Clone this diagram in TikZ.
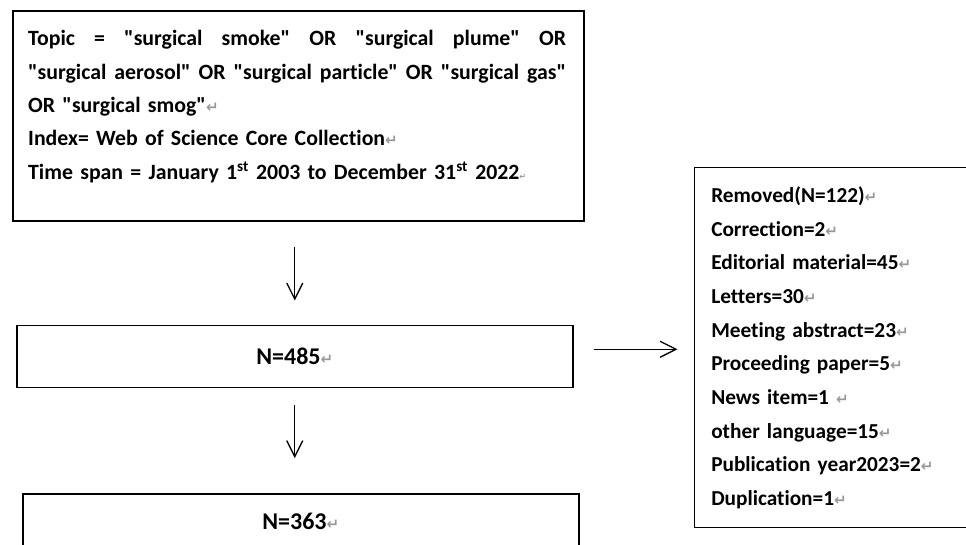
\documentclass[tikz,border=0pt]{standalone}
\usepackage{fontspec}
\setmainfont{Carlito}[Ligatures={TeXOff,NoCommon}]
\newfontfamily\symfont{DejaVu Sans}
\usepackage{xcolor}
\usepackage{tikz}
\usetikzlibrary{arrows.meta,positioning}
\newcommand{\pmark}{{\symfont\fontsize{15}{15}\selectfont\color{gray!80}↵}}
\newcommand{\tinymark}{{\symfont\fontsize{8}{8}\selectfont\color{gray!80}↵}}
\newcommand{\jsp}{\hskip 0.22em plus 1fill\relax}
\tikzset{
  searchbox/.style={draw, line width=1.5pt, anchor=north west, minimum width=571pt, minimum height=210pt, inner sep=0pt},
  querytext/.style={inner sep=0pt, align=left, text width=538pt, font=\bfseries\fontsize{21.8}{33.3}\selectfont},
  countbox/.style={draw, line width=1.5pt, minimum width=556pt, minimum height=62pt, inner sep=0pt, font=\bfseries\fontsize{24}{26}\selectfont},
  listbox/.style={draw, line width=1.5pt, align=left, text width=266pt, inner xsep=17pt, inner ysep=11.5pt, font=\bfseries\fontsize{21.3}{33.7}\selectfont},
  line/.style={-{Straight Barb[length=16pt, width=16pt]}, line width=1.3pt}
}

\begin{document}
\begin{tikzpicture}[x=1pt, y=-1pt]
  \useasboundingbox (0,0) rectangle (966,544);
  \clip (0,0) rectangle (966,544);
  \node[searchbox] (search) at (12,10) {};
  \node[querytext, anchor=north west] (query) at ([shift={(16pt,-12.4pt)}]search.north west)
    {\strut\makebox[538pt][l]{Topic\jsp=\jsp"surgical\jsp smoke"\jsp OR\jsp"surgical\jsp plume"\jsp OR}\\
     \makebox[538pt][l]{"surgical\jsp aerosol"\jsp OR\jsp"surgical\jsp particle"\jsp OR\jsp"surgical\jsp gas"}\\
     OR "surgical smog"\pmark\\
     Index= Web of Science Core Collection\pmark\\
     Time span = January 1\textsuperscript{st} 2003 to December 31\textsuperscript{st} 2022\tinymark};
  \node[countbox, below right=103pt and 4pt of search.south west] (n485) {N=485\pmark};
  \node[countbox, below right=105pt and 6pt of n485.south west] (n363) {\raisebox{7pt}{N=363\pmark}};
  \node[listbox, right=120pt of n485.east, yshift=9pt] (removed)
    {\strut Removed(N=122)\pmark\\
     Correction=2\pmark\\
     Editorial material=45\pmark\\
     Letters=30\pmark\\
     Meeting abstract=23\pmark\\
     Proceeding paper=5\pmark\\
     News item=1 \pmark\\
     other language=15\pmark\\
     Publication year2023=2\pmark\\
     Duplication=1\pmark\strut};
  \draw[line, shorten <=25pt, shorten >=24pt] (n485.north |- search.south) -- (n485.north);
  \draw[line, shorten <=17pt, shorten >=35pt] (n485.south) -- (n485.south |- n363.north);
  \draw[line, shorten <=20pt, shorten >=16pt] ([yshift=7pt]n485.east) -- ([yshift=7pt]n485.east -| removed.west);
\end{tikzpicture}
\end{document}
